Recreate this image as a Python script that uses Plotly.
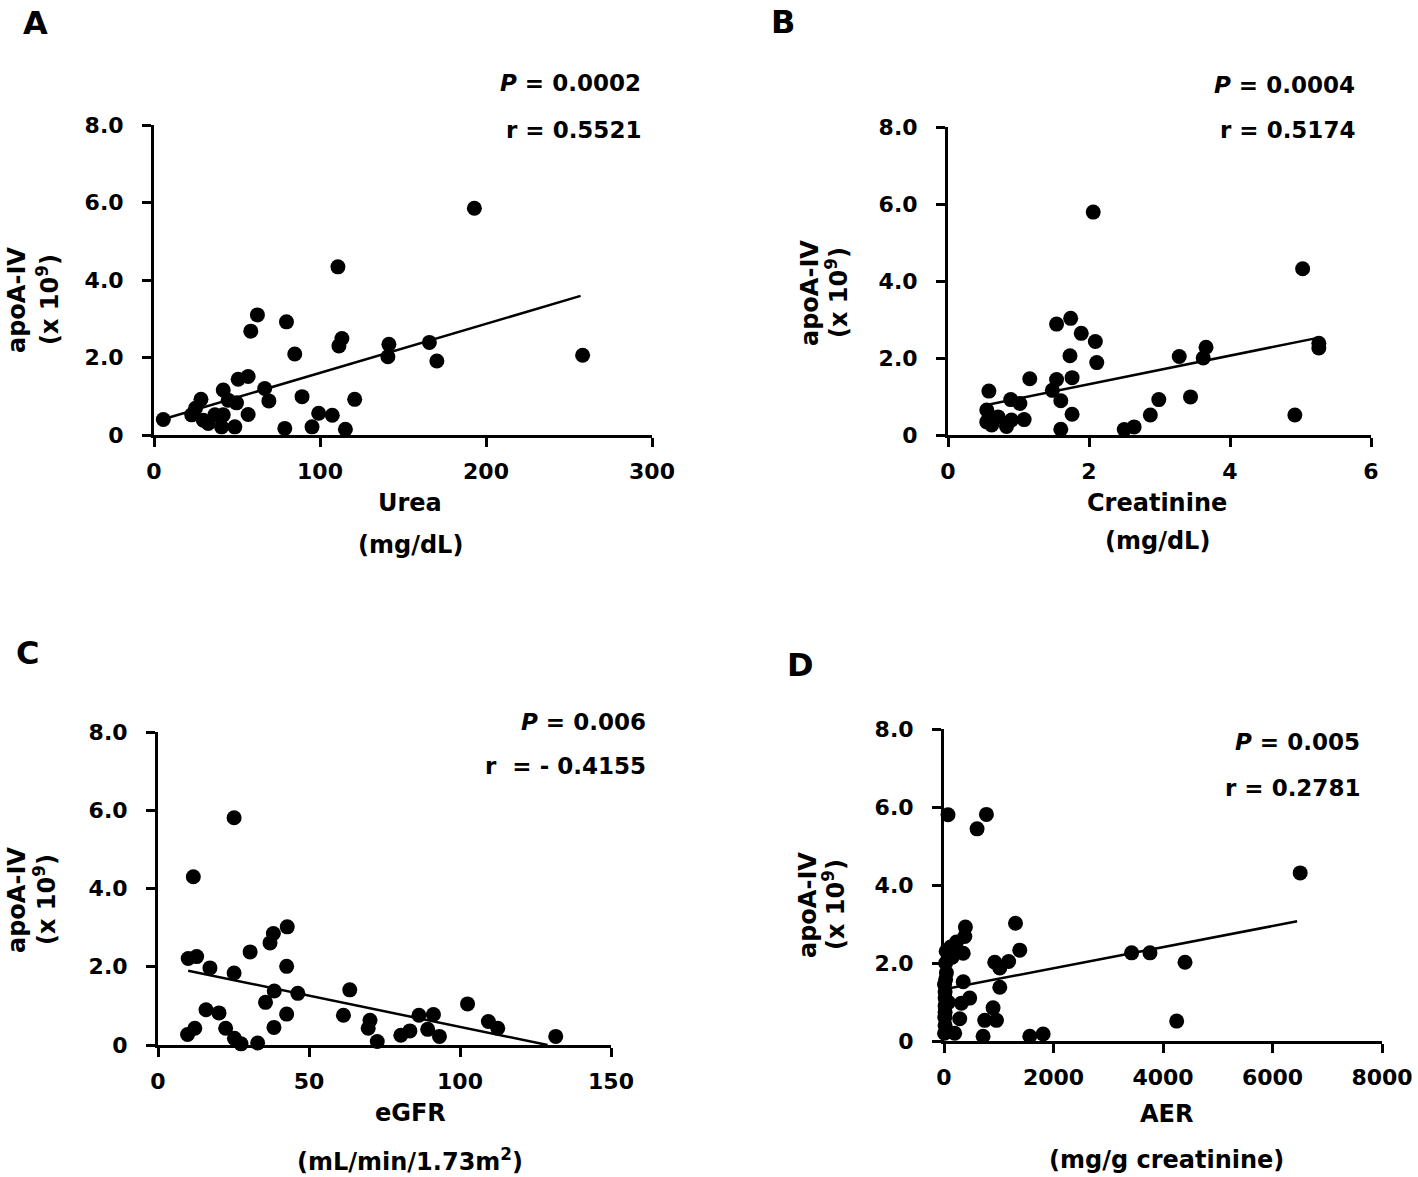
import plotly.graph_objects as go

W, H = 1418, 1177

# ---------------- data ----------------
urea_x = [5.6, 22.7, 25, 28.3, 29.7, 32.7, 36.7, 41.7, 40.7, 41.7, 44.7, 49.7, 48.7, 50.7, 56.7, 56.7,
          58.3, 62.3, 66.7, 69.2, 78.8, 79.8, 84.8, 89.2, 95.2, 99.2, 107.4, 110.8, 111.4, 113.2, 115.3,
          120.9, 141.5, 140.9, 165.9, 170.4, 193.0, 258.2]
urea_y = [0.40, 0.52, 0.69, 0.92, 0.38, 0.30, 0.52, 0.52, 0.21, 1.16, 0.90, 0.83, 0.21, 1.44, 1.51, 0.53,
          2.68, 3.10, 1.20, 0.88, 0.17, 2.92, 2.09, 0.99, 0.21, 0.56, 0.51, 4.34, 2.30, 2.49, 0.15,
          0.92, 2.34, 2.02, 2.39, 1.91, 5.85, 2.06]
urea_fit_x = [5, 257]
urea_fit_y = [0.40, 3.59]

creat_x = [0.58, 0.55, 0.55, 0.62, 0.71, 0.83, 0.89, 0.90, 1.02, 1.08, 1.16, 1.54, 1.54, 1.48, 1.60, 1.60,
           1.74, 1.73, 1.76, 1.76, 1.89, 2.06, 2.09, 2.11, 2.50, 2.64, 2.87, 2.99, 3.28, 3.44, 3.62, 3.66,
           4.92, 5.03, 5.26, 5.26]
creat_y = [1.14, 0.65, 0.34, 0.26, 0.47, 0.22, 0.92, 0.39, 0.82, 0.40, 1.46, 2.88, 1.44, 1.16, 0.89, 0.15,
           3.03, 2.06, 1.49, 0.54, 2.64, 5.79, 2.43, 1.88, 0.14, 0.21, 0.52, 0.92, 2.04, 0.99, 2.00, 2.28,
           0.52, 4.32, 2.38, 2.26]
creat_fit_x = [0.6, 5.21]
creat_fit_y = [0.80, 2.51]

egfr_x = [9.8, 12.2, 10.0, 12.8, 11.7, 17.2, 15.9, 20.2, 22.4, 25.2, 25.2, 25.3, 27.5, 30.5, 33.0, 35.6,
          37.1, 38.2, 38.5, 38.4, 42.6, 42.8, 42.6, 46.3, 61.4, 63.5, 70.2, 69.6, 72.6, 80.4, 83.4, 86.4,
          89.3, 91.2, 93.2, 102.5, 109.4, 112.5, 131.7]
egfr_y = [0.27, 0.43, 2.21, 2.26, 4.30, 1.97, 0.90, 0.82, 0.43, 5.81, 1.84, 0.17, 0.03, 2.38, 0.05, 1.09,
          2.61, 2.85, 1.38, 0.45, 2.01, 3.02, 0.79, 1.32, 0.76, 1.41, 0.63, 0.43, 0.09, 0.25, 0.36, 0.76,
          0.40, 0.78, 0.22, 1.05, 0.60, 0.43, 0.22]
egfr_fit_x = [10, 129]
egfr_fit_y = [1.90, 0.0]

aer_x = [73, 604, 775, 6506, 1306, 391, 380, 227, 120, 351, 150, 1384, 927, 1019, 1180, 3427, 3762, 4402,
         4250, 44, 351, 1019, 470, 318, 896, 30, 20, 80, 20, 287, 744, 958, 20, 195, 714, 1567, 1811,
         30, 40, 20, 20, 10, 15, 10]
aer_y = [5.80, 5.44, 5.81, 4.31, 3.02, 2.92, 2.68, 2.54, 2.41, 2.25, 2.15, 2.33, 2.02, 1.87, 2.04, 2.26,
         2.26, 2.02, 0.51, 1.75, 1.52, 1.38, 1.10, 0.97, 0.85, 1.58, 1.26, 0.99, 0.74, 0.57, 0.53, 0.53,
         0.40, 0.20, 0.12, 0.12, 0.18, 2.00, 2.30, 1.10, 0.90, 1.45, 0.60, 0.20]
aer_fit_x = [50, 6450]
aer_fit_y = [1.34, 3.07]

y_ticks = [0, 2, 4, 6, 8]
y_ticktext = ["0", "2.0", "4.0", "6.0", "8.0"]

panels = [
    dict(letter="A", x=urea_x, y=urea_y, fx=urea_fit_x, fy=urea_fit_y, xr=[0, 300], xt=[0, 100, 200, 300],
         xtt=["0", "100", "200", "300"], P="0.0002", r="r = 0.5521",
         xt1="Urea", xt2="(mg/dL)"),
    dict(letter="B", x=creat_x, y=creat_y, fx=creat_fit_x, fy=creat_fit_y, xr=[0, 6], xt=[0, 2, 4, 6],
         xtt=["0", "2", "4", "6"], P="0.0004", r="r = 0.5174",
         xt1="Creatinine", xt2="(mg/dL)"),
    dict(letter="C", x=egfr_x, y=egfr_y, fx=egfr_fit_x, fy=egfr_fit_y, xr=[0, 150], xt=[0, 50, 100, 150],
         xtt=["0", "50", "100", "150"], P="0.006", r="r  = - 0.4155",
         xt1="eGFR", xt2="(mL/min/1.73m<sup>2</sup>)"),
    dict(letter="D", x=aer_x, y=aer_y, fx=aer_fit_x, fy=aer_fit_y, xr=[0, 8000], xt=[0, 2000, 4000, 6000, 8000],
         xtt=["0", "2000", "4000", "6000", "8000"], P="0.005", r="r = 0.2781",
         xt1="AER", xt2="(mg/g creatinine)"),
]

# ---------------- layout (pixel positions) ----------------
geom = [
    dict(ax=(154, 652, 125, 435), letter=(35, 23), stat=(643, 83, 130), ytl=(17, 48, 300),
         xtl=(410, 503, 545)),
    dict(ax=(948, 1371, 127, 435), letter=(783, 22), stat=(1357, 85, 130), ytl=(810, 837, 293),
         xtl=(1157, 503, 541)),
    dict(ax=(158, 611, 732, 1045), letter=(27, 653), stat=(648, 722, 766), ytl=(17, 45, 900),
         xtl=(410, 1113, 1160)),
    dict(ax=(944, 1382, 729, 1041), letter=(800, 665), stat=(1362, 742, 788), ytl=(808, 834, 905),
         xtl=(1166, 1114, 1160)),
]

FONT = "DejaVu Sans"
def px(x):
    return x / W
def py(y):
    return 1 - y / H

fig = go.Figure()
annotations = []
layout = {}
for i, (p, g) in enumerate(zip(panels, geom), start=1):
    xa = "x" if i == 1 else f"x{i}"
    ya = "y" if i == 1 else f"y{i}"
    fig.add_trace(go.Scatter(x=p["fx"], y=p["fy"], mode="lines", xaxis=xa, yaxis=ya,
                             line=dict(color="black", width=2.5), showlegend=False, cliponaxis=False))
    fig.add_trace(go.Scatter(x=p["x"], y=p["y"], mode="markers", xaxis=xa, yaxis=ya,
                             marker=dict(color="black", size=15, line=dict(width=0)),
                             showlegend=False, cliponaxis=False))
    x0, x1, y0, y1 = g["ax"]
    axis_common = dict(showgrid=False, zeroline=False, showline=True, linecolor="black", linewidth=3,
                       ticks="outside", ticklen=9, tickwidth=2.5, tickcolor="black", automargin=False,
                       tickfont=dict(family=FONT, size=22, color="black", weight="bold"))
    layout["xaxis" if i == 1 else f"xaxis{i}"] = dict(
        domain=[px(x0), px(x1)], range=p["xr"], tickvals=p["xt"], ticktext=p["xtt"],
        anchor=ya, ticklabelstandoff=6, **axis_common)
    layout["yaxis" if i == 1 else f"yaxis{i}"] = dict(
        domain=[py(y1), py(y0)], range=[0, 8], tickvals=y_ticks, ticktext=y_ticktext,
        anchor=xa, ticklabelstandoff=14, **axis_common)

    bold = dict(family=FONT, color="black", weight="bold")
    lx, ly = g["letter"]
    annotations.append(dict(text=p["letter"], x=px(lx), y=py(ly), xref="paper", yref="paper",
                            showarrow=False, xanchor="center", yanchor="middle",
                            font=dict(size=32, **bold)))
    sx, sy1, sy2 = g["stat"]
    annotations.append(dict(text=f"<i>P</i> = {p['P']}", x=px(sx), y=py(sy1), xref="paper", yref="paper",
                            showarrow=False, xanchor="right", yanchor="middle", font=dict(size=23, **bold)))
    annotations.append(dict(text=p["r"], x=px(sx), y=py(sy2), xref="paper", yref="paper",
                            showarrow=False, xanchor="right", yanchor="middle", font=dict(size=23, **bold)))
    tx1, tx2, tyc = g["ytl"]
    annotations.append(dict(text="apoA-IV", x=px(tx1), y=py(tyc), xref="paper", yref="paper",
                            showarrow=False, textangle=-90, xanchor="center", yanchor="middle",
                            font=dict(size=24, **bold)))
    annotations.append(dict(text="(x 10<sup>9</sup>)", x=px(tx2), y=py(tyc), xref="paper", yref="paper",
                            showarrow=False, textangle=-90, xanchor="center", yanchor="middle",
                            font=dict(size=24, **bold)))
    cx, cy1, cy2 = g["xtl"]
    annotations.append(dict(text=p["xt1"], x=px(cx), y=py(cy1), xref="paper", yref="paper",
                            showarrow=False, xanchor="center", yanchor="middle", font=dict(size=24, **bold)))
    annotations.append(dict(text=p["xt2"], x=px(cx), y=py(cy2), xref="paper", yref="paper",
                            showarrow=False, xanchor="center", yanchor="middle", font=dict(size=24, **bold)))

fig.update_layout(width=W, height=H, margin=dict(l=0, r=0, t=0, b=0, autoexpand=False),
                  paper_bgcolor="white", plot_bgcolor="white",
                  annotations=annotations, **layout)
fig.write_html("out.html", config={"displayModeBar": False},
               post_script="document.body.style.margin='0';document.body.style.overflow='hidden';")
